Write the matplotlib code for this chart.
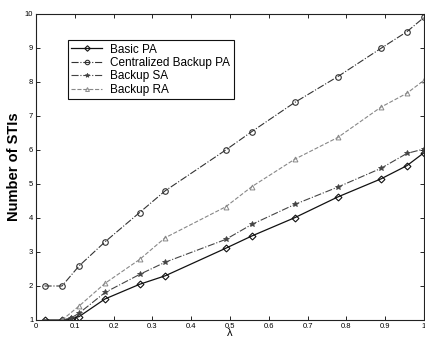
import matplotlib
matplotlib.use("Agg")
import matplotlib.pyplot as plt

lam_basic = [0.022, 0.067, 0.089, 0.111, 0.178, 0.267, 0.333, 0.489, 0.556, 0.667, 0.778, 0.889, 0.956, 1.0]
basic_pa = [1.0, 1.0, 1.03, 1.1, 1.62, 2.05, 2.3, 3.11, 3.47, 4.01, 4.62, 5.15, 5.54, 5.92]

lam_cb = [0.022, 0.067, 0.111, 0.178, 0.267, 0.333, 0.489, 0.556, 0.667, 0.778, 0.889, 0.956, 1.0]
cb_pa = [2.0, 2.0, 2.59, 3.3, 4.16, 4.8, 6.0, 6.54, 7.4, 8.16, 8.99, 9.48, 9.9]

lam_sa = [0.067, 0.089, 0.111, 0.178, 0.267, 0.333, 0.489, 0.556, 0.667, 0.778, 0.889, 0.956, 1.0]
backup_sa = [1.0, 1.05, 1.2, 1.81, 2.34, 2.7, 3.37, 3.81, 4.4, 4.91, 5.46, 5.9, 6.03]

lam_ra = [0.067, 0.111, 0.178, 0.267, 0.333, 0.489, 0.556, 0.667, 0.778, 0.889, 0.956, 1.0]
backup_ra = [1.0, 1.41, 2.08, 2.78, 3.42, 4.33, 4.92, 5.73, 6.37, 7.26, 7.67, 8.05]

xticks = [0, 0.1, 0.2, 0.3, 0.4, 0.5, 0.6, 0.7, 0.8, 0.9, 1]
xticklabels = ["0", "0.1", "0.2", "0.3", "0.4", "0.5", "0.6", "0.7", "0.8", "0.9", "1"]
yticks = list(range(1, 11))

plt.rcParams['font.family'] = ['Liberation Sans', 'DejaVu Sans']

fig = plt.figure(figsize=(4.25, 3.42), dpi=100)
ax = fig.add_axes([36/425, 22/342, 388/425, 306/342])

ax.plot(lam_basic, basic_pa, color='#111111', linestyle='-', linewidth=0.9,
        marker='D', markersize=3.5, markerfacecolor='none', markeredgewidth=0.8, label='Basic PA')
ax.plot(lam_cb, cb_pa, color='#333333', linestyle='-.', linewidth=0.8,
        marker='o', markersize=4, markerfacecolor='none', markeredgewidth=0.8, label='Centralized Backup PA')
ax.plot(lam_sa, backup_sa, color='#444444', linestyle='-.', linewidth=0.8,
        marker='*', markersize=4, markerfacecolor='#444444', markeredgewidth=0.6, label='Backup SA')
ax.plot(lam_ra, backup_ra, color='#888888', linestyle='--', linewidth=0.8,
        marker='^', markersize=3.5, markerfacecolor='none', markeredgewidth=0.7, label='Backup RA')

ax.set_xlim(0, 1)
ax.set_ylim(1, 10)
ax.set_xticks(xticks)
ax.set_xticklabels(xticklabels)
ax.set_yticks(yticks)
ax.tick_params(direction='in', length=3, labelsize=5.5, pad=2, top=True, right=True, width=0.6)
for s in ax.spines.values():
    s.set_linewidth(0.8)
    s.set_color('#222222')

ax.set_xlabel('λ', fontsize=8, labelpad=-1)
ax.set_ylabel('Number of STIs', fontsize=10.5, fontweight='bold', labelpad=3)

leg = ax.legend(loc='upper left', bbox_to_anchor=(0.082, 0.915), fontsize=8.5,
                frameon=True, fancybox=False, edgecolor='#111111', framealpha=1,
                handlelength=2.6, borderpad=0.3, labelspacing=0.12, handletextpad=0.7,
                borderaxespad=0, markerscale=0.8)
leg.get_frame().set_linewidth(0.8)

fig.savefig('out.png', dpi=100)
